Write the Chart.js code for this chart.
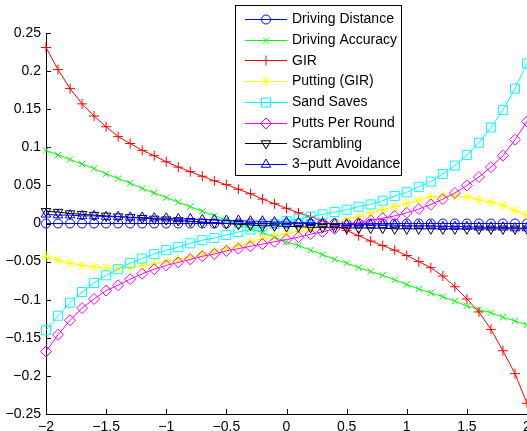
<!DOCTYPE html>
<html>
<head>
<meta charset="utf-8">
<script src="https://cdn.jsdelivr.net/npm/chart.js@4"></script>
<style>
  html, body { margin: 0; padding: 0; background: #fff; }
  #wrap { width: 527px; height: 431px; }
</style>
</head>
<body>
<div id="wrap"><canvas id="myChart" width="527" height="431"></canvas></div>
<script>
// x positions (step 0.1)
const xs = [-2.0, -1.9, -1.8, -1.7, -1.6, -1.5, -1.4, -1.3, -1.2, -1.1, -1.0,
            -0.9, -0.8, -0.7, -0.6, -0.5, -0.4, -0.3, -0.2, -0.1, 0.0,
             0.1, 0.2, 0.3, 0.4, 0.5, 0.6, 0.7, 0.8, 0.9, 1.0,
             1.1, 1.2, 1.3, 1.4, 1.5, 1.6, 1.7, 1.8, 1.9, 2.0];

const drivingDistance = [0, 0, 0, 0, 0, 0, 0, 0, 0, 0, 0,
                         0, 0, 0, 0, 0, 0, 0, 0, 0, 0,
                         0, 0, 0, 0, 0, 0, 0, 0, 0, 0,
                         0, 0, 0, 0, 0, 0, 0, 0, 0, 0];

const drivingAccuracy = [0.096, 0.090, 0.084, 0.078, 0.072, 0.065, 0.059, 0.053, 0.046, 0.040, 0.034,
                         0.028, 0.022, 0.016, 0.010, 0.005, -0.001, -0.007, -0.012, -0.018, -0.024,
                         -0.029, -0.035, -0.041, -0.047, -0.052, -0.058, -0.063, -0.068, -0.074, -0.080,
                         -0.086, -0.091, -0.096, -0.102, -0.108, -0.113, -0.117, -0.123, -0.128, -0.133];

const gir = [0.231, 0.202, 0.177, 0.157, 0.141, 0.127, 0.114, 0.105, 0.096, 0.089, 0.081,
             0.074, 0.068, 0.062, 0.056, 0.051, 0.045, 0.039, 0.032, 0.026, 0.020,
             0.014, 0.009, 0.003, -0.002, -0.009, -0.016, -0.023, -0.029, -0.035, -0.042,
             -0.050, -0.058, -0.069, -0.083, -0.099, -0.116, -0.139, -0.167, -0.197, -0.236];

const puttingGir = [-0.043, -0.048, -0.052, -0.055, -0.057, -0.058, -0.059, -0.058, -0.055, -0.053, -0.050,
                    -0.047, -0.044, -0.041, -0.037, -0.033, -0.029, -0.024, -0.020, -0.017, -0.013,
                    -0.010, -0.007, -0.003, 0.001, 0.005, 0.009, 0.014, 0.018, 0.022, 0.026,
                    0.031, 0.035, 0.036, 0.036, 0.035, 0.031, 0.028, 0.024, 0.017, 0.011];

const sandSaves = [-0.140, -0.121, -0.104, -0.090, -0.078, -0.068, -0.060, -0.052, -0.046, -0.040, -0.035,
                   -0.031, -0.026, -0.022, -0.019, -0.015, -0.011, -0.008, -0.004, -0.001, 0.003,
                   0.006, 0.009, 0.012, 0.015, 0.018, 0.022, 0.025, 0.030, 0.036, 0.041,
                   0.048, 0.055, 0.065, 0.076, 0.090, 0.106, 0.126, 0.149, 0.177, 0.210];

const puttsPerRound = [-0.168, -0.146, -0.127, -0.111, -0.099, -0.088, -0.081, -0.073, -0.066, -0.060, -0.055,
                       -0.051, -0.047, -0.043, -0.040, -0.036, -0.033, -0.030, -0.027, -0.024, -0.021,
                       -0.018, -0.014, -0.011, -0.007, -0.003, 0.001, 0.004, 0.007, 0.010, 0.014,
                       0.019, 0.025, 0.032, 0.040, 0.050, 0.061, 0.074, 0.089, 0.110, 0.134];

const scrambling = [0.016, 0.015, 0.013, 0.012, 0.011, 0.010, 0.009, 0.008, 0.007, 0.006, 0.005,
                    0.004, 0.003, 0.002, 0.001, 0.000, -0.001, -0.002, -0.003, -0.003, -0.004,
                    -0.004, -0.005, -0.005, -0.005, -0.006, -0.006, -0.006, -0.006, -0.007, -0.007,
                    -0.007, -0.007, -0.007, -0.007, -0.007, -0.007, -0.007, -0.007, -0.007, -0.007];

const threePutt = [0.012, 0.011, 0.011, 0.010, 0.010, 0.009, 0.009, 0.008, 0.008, 0.007, 0.007,
                   0.006, 0.006, 0.005, 0.005, 0.004, 0.004, 0.003, 0.003, 0.002, 0.002,
                   0.001, 0.001, 0.000, 0.000, -0.001, -0.001, -0.002, -0.002, -0.002, -0.003,
                   -0.003, -0.003, -0.004, -0.004, -0.004, -0.005, -0.005, -0.005, -0.006, -0.006];

const xTicks = [-2, -1.5, -1, -0.5, 0, 0.5, 1, 1.5, 2];
const yTicks = [-0.25, -0.2, -0.15, -0.1, -0.05, 0, 0.05, 0.1, 0.15, 0.2, 0.25];

const FONT = '"Liberation Sans", Arial, Helvetica, sans-serif';

const seriesDefs = [
    { label: 'Driving Distance', values: drivingDistance, color: '#0000ff', style: 'circle', radius: 4.5 },
    { label: 'Driving Accuracy', values: drivingAccuracy, color: '#00ff00', style: 'crossRot', radius: 4.5 },
    { label: 'GIR', values: gir, color: '#ff0000', style: 'cross', radius: 5 },
    { label: 'Putting (GIR)', values: puttingGir, color: '#ffff00', style: 'star', radius: 5 },
    { label: 'Sand Saves', values: sandSaves, color: '#00ffff', style: 'rect', radius: 6.4 },
    { label: 'Putts Per Round', values: puttsPerRound, color: '#ff00ff', style: 'rectRot', radius: 5.5 },
    { label: 'Scrambling', values: scrambling, color: '#000000', style: 'triangle', radius: 5.5, rotation: 180 },
    { label: '3\u2212putt Avoidance', values: threePutt, color: '#0000ff', style: 'triangle', radius: 5.5 }
];

const datasets = seriesDefs.map((s, i) => ({
    label: s.label,
    data: xs.map((x, j) => ({ x: x, y: s.values[j] })),
    borderColor: s.color,
    borderWidth: 1,
    backgroundColor: 'rgba(0,0,0,0)',
    pointStyle: s.style,
    pointRadius: s.radius,
    pointRotation: s.rotation || 0,
    pointBorderColor: s.color,
    pointBackgroundColor: 'rgba(0,0,0,0)',
    pointBorderWidth: 1,
    tension: 0,
    fill: false,
    clip: false,
    order: seriesDefs.length - i // later series on top, like the original
}));

const fmt = v => String(Math.round(v * 100) / 100).replace('-', '\u2212');

// inward tick marks on the left and bottom axes
const tickPlugin = {
    id: 'inwardTicks',
    beforeDatasetsDraw(chart) {
        const ctx = chart.ctx;
        const a = chart.chartArea;
        const xs_ = chart.scales.x, ys_ = chart.scales.y;
        ctx.save();
        ctx.strokeStyle = '#000';
        ctx.lineWidth = 1;
        ctx.beginPath();
        xTicks.forEach(t => {
            const px = Math.round(xs_.getPixelForValue(t)) + 0.5;
            ctx.moveTo(px, a.bottom);
            ctx.lineTo(px, a.bottom - 5);
        });
        yTicks.forEach(t => {
            const py = Math.round(ys_.getPixelForValue(t)) + 0.5;
            ctx.moveTo(a.left, py);
            ctx.lineTo(a.left + 5, py);
        });
        ctx.stroke();
        ctx.restore();
    }
};

// boxed legend drawn inside the plot
const legendPlugin = {
    id: 'boxLegend',
    afterDraw(chart) {
        const ctx = chart.ctx;
        const box = { x: 235.5, y: 5.5, w: 166, h: 170 };
        ctx.save();
        ctx.fillStyle = '#fff';
        ctx.fillRect(box.x, box.y, box.w, box.h);
        ctx.strokeStyle = '#000';
        ctx.lineWidth = 1;
        ctx.strokeRect(box.x, box.y, box.w, box.h);

        ctx.font = '14px ' + FONT;
        ctx.textBaseline = 'middle';
        ctx.textAlign = 'left';
        seriesDefs.forEach((s, i) => {
            const y = 19 + i * 20.7;
            ctx.strokeStyle = s.color;
            ctx.lineWidth = 1;
            ctx.beginPath();
            ctx.moveTo(245, Math.round(y) + 0.5);
            ctx.lineTo(287, Math.round(y) + 0.5);
            ctx.stroke();
            ctx.fillStyle = 'rgba(0,0,0,0)';
            if (Chart.helpers && Chart.helpers.drawPoint) {
                Chart.helpers.drawPoint(ctx, {
                    pointStyle: s.style,
                    rotation: s.rotation || 0,
                    radius: s.radius,
                    borderWidth: 1
                }, 266, Math.round(y) + 0.5);
            }
            ctx.fillStyle = '#000';
            ctx.fillText(s.label, 292, y + 0.5);
        });
        ctx.restore();
    }
};

new Chart(document.getElementById('myChart'), {
    type: 'line',
    data: { datasets: datasets },
    options: {
        responsive: false,
        animation: false,
        events: [],
        layout: { autoPadding: false, padding: { top: 33, left: 0, right: 0, bottom: 0 } },
        plugins: {
            legend: { display: false },
            tooltip: { enabled: false },
            title: { display: false }
        },
        scales: {
            x: {
                type: 'linear',
                min: -2,
                max: 2,
                afterBuildTicks: scale => { scale.ticks = xTicks.map(v => ({ value: v })); },
                afterFit: scale => {
                    scale.height = 17;
                    scale.paddingLeft = 0;
                    scale.paddingRight = 0;
                },
                grid: { display: false, drawTicks: false },
                border: { display: true, color: '#000', width: 1 },
                ticks: {
                    color: '#000',
                    font: { family: FONT, size: 14 },
                    padding: 5,
                    maxRotation: 0,
                    autoSkip: false,
                    callback: v => fmt(v)
                }
            },
            y: {
                type: 'linear',
                min: -0.25,
                max: 0.25,
                afterBuildTicks: scale => { scale.ticks = yTicks.map(v => ({ value: v })); },
                afterFit: scale => {
                    scale.width = 46;
                    scale.paddingTop = 0;
                    scale.paddingBottom = 0;
                },
                grid: { display: false, drawTicks: false },
                border: { display: true, color: '#000', width: 1 },
                ticks: {
                    color: '#000',
                    font: { family: FONT, size: 14 },
                    padding: 5,
                    autoSkip: false,
                    callback: v => fmt(v)
                }
            }
        }
    },
    plugins: [tickPlugin, legendPlugin]
});
</script>
</body>
</html>
